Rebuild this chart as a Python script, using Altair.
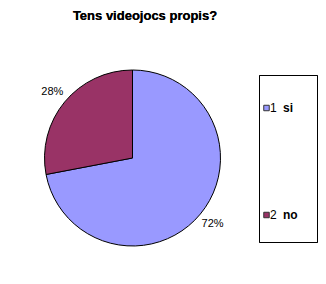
import altair as alt
import pandas as pd

# Survey answers: "Do you own video games?"
codes = ["1", "2"]
answers = ["si", "no"]
shares = [72, 28]
labels = ["72%", "28%"]
colors = ["#9999FF", "#993366"]

df = pd.DataFrame({"code": codes, "answer": answers, "share": shares, "label": labels})

color_scale = alt.Scale(domain=answers, range=colors)
cx, cy = 132.5, 158

base = alt.Chart(df)

pie = base.mark_arc(stroke="black", strokeWidth=1, outerRadius=88).encode(
    theta=alt.Theta("share:Q", stack=True),
    color=alt.Color("answer:N", scale=color_scale, legend=None),
    order=alt.Order("code:N"),
    x=alt.value(cx),
    y=alt.value(cy),
)

pct = base.mark_text(font="Liberation Sans", fontSize=11, color="black").encode(
    theta=alt.Theta("share:Q", stack=True),
    order=alt.Order("code:N"),
    radius=alt.value(104),
    text="label:N",
    x=alt.value(cx),
    y=alt.value(cy),
)

title = base.mark_text(
    font="Liberation Sans", fontSize=13, fontWeight="bold", color="black"
).encode(
    x=alt.value(145), y=alt.value(16), text=alt.value("Tens videojocs propis?")
)

box = base.mark_rect(fill="white", stroke="black", strokeWidth=1).encode(
    x=alt.value(259.5), x2=alt.value(317.5), y=alt.value(75.5), y2=alt.value(242.5)
)

rows = alt.Y(
    "answer:N",
    scale=alt.Scale(type="point", domain=answers, range=[108, 215], padding=0),
    axis=None,
)

swatch = base.mark_point(
    shape="square", filled=True, size=30, stroke="#333333", strokeWidth=1, opacity=1
).encode(
    x=alt.value(266.5),
    y=rows,
    fill=alt.Color("answer:N", scale=color_scale, legend=None),
)

num = base.mark_text(
    font="Liberation Sans", fontSize=12, align="left", baseline="middle", color="black"
).encode(x=alt.value(270), y=rows, text="code:N")

name = base.mark_text(
    font="Liberation Sans", fontSize=12, fontWeight="bold", align="left",
    baseline="middle", color="black"
).encode(x=alt.value(283), y=rows, text="answer:N")

chart = (
    alt.layer(box, pie, pct, title, swatch, num, name)
    .properties(
        width=326,
        height=284,
        autosize=alt.AutoSizeParams(type="none"),
        padding=0,
        view=alt.ViewBackground(strokeWidth=0, strokeOpacity=0),
    )
    .configure_view(strokeWidth=0, strokeOpacity=0)
    .configure(background="white")
)

chart.save("out.html", embed_options={"renderer": "svg", "actions": False})
